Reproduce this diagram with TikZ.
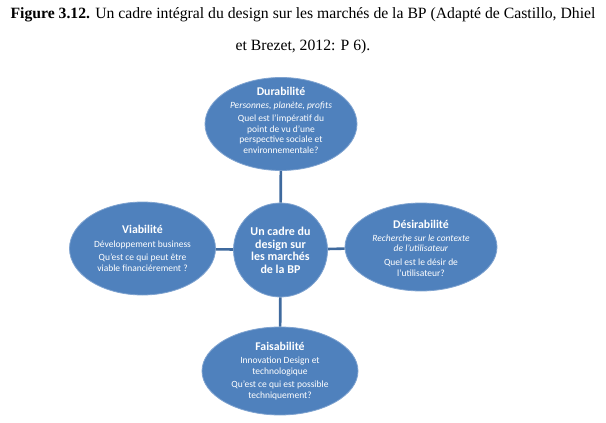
\documentclass[tikz,border=0pt]{standalone}
\usepackage{fontspec}
\setmainfont{Liberation Serif}
\setsansfont{Carlito}
\usetikzlibrary{shapes.geometric}
\definecolor{bpfill}{HTML}{4F81BD}
\definecolor{bpedge}{HTML}{7FA3D0}
\definecolor{bpline}{HTML}{3F6A9E}
\tikzset{
  bubble/.style={ellipse, draw=bpedge, line width=0.8pt, fill=bpfill, inner sep=0pt},
  bubtext/.style={text=white, align=center, inner sep=0pt, font=\sffamily\fontsize{9.5}{10.6}\selectfont},
  link/.style={draw=bpline, line width=2.6pt},
  figcap/.style={font=\rmfamily\fontsize{15.7}{18}\selectfont, inner sep=0pt, anchor=base}
}
\newcommand{\hd}[1]{{\fontsize{11.8}{12}\selectfont\bfseries #1}}
\begin{document}
\begin{tikzpicture}[x=1pt,y=-1pt]
\useasboundingbox (0,0) rectangle (606,423);
\node[figcap] (t1) at (303,19) {\textbf{Figure 3.12.} Un cadre intégral du design sur les marchés de la BP (Adapté de Castillo, Dhiel};
\node[figcap] (t2) at (303,50) {et Brezet, 2012: P 6).};
% bubbles
\node[bubble, minimum width=152pt, minimum height=93pt] (top) at (281,124) {};
\node[bubble, minimum width=146pt, minimum height=93pt] (left) at (142.5,248.5) {};
\node[bubble, minimum width=152pt, minimum height=88pt] (right) at (421,247) {};
\node[bubble, minimum width=156pt, minimum height=88pt] (bot) at (280,371) {};
\node[bubble, circle, minimum size=94pt] (ctr) at (280.5,250) {};
% links
\draw[link] (top) -- (ctr);
\draw[link] (ctr) -- (bot);
\draw[link] (left) -- (ctr);
\draw[link] (ctr) -- (right);
% texts
\node[bubtext] (toptx) at (281,120.5) {\hd{Durabilité}\\[2pt]
  \textit{Personnes, planète, profits}\\[2.5pt]
  Quel est l'impératif du\\ point de vu d'une\\ perspective sociale et\\ environnementale?};
\node[bubtext] (lefttx) at (142.5,248.5) {\hd{Viabilité}\\[3pt]
  Développement business\\[3pt]
  Qu'est ce qui peut être\\ viable financiérement ?};
\node[bubtext] (righttx) at (421,248) {\hd{Désirabilité}\\[2.5pt]
  \textit{Recherche sur le contexte}\\ \textit{de l'utilisateur}\\[3pt]
  Quel est le désir de\\ l'utilisateur?};
\node[bubtext] (bottx) at (280,371) {\hd{Faisabilité}\\[3pt]
  Innovation Design et\\ technologique\\[3pt]
  Qu'est ce qui est possible\\ techniquement?};
\node[bubtext, font=\sffamily\fontsize{12}{12.5}\selectfont\bfseries] (ctrtx) at (280.5,250.5) {Un cadre du\\ design sur\\ les marchés\\ de la BP};
\end{tikzpicture}
\end{document}
